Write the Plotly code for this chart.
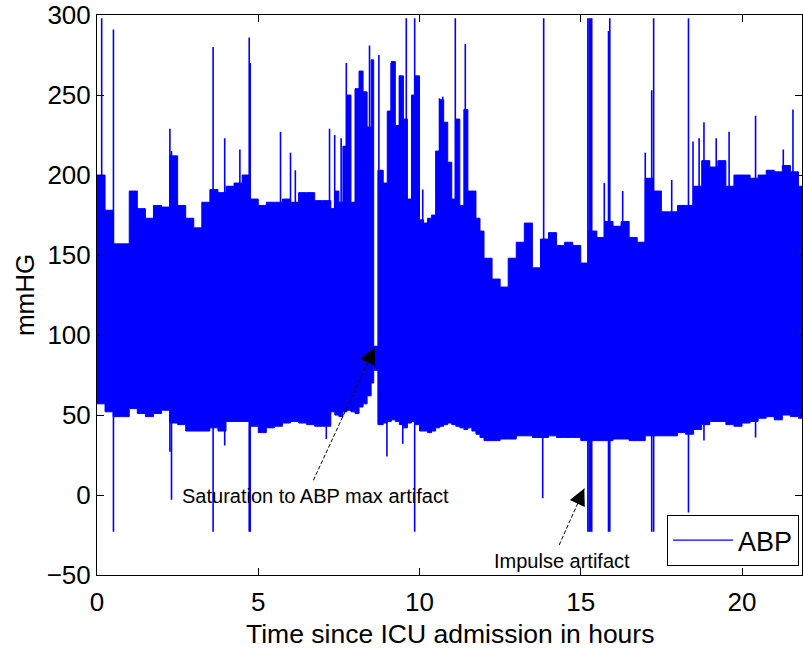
import plotly.graph_objects as go

# ---- data ----
t_env = [0, 0.25, 0.5, 0.75, 1.0, 1.25, 1.5, 1.75, 2.0, 2.25, 2.5, 2.75, 3.0, 3.25, 3.5, 3.75,
         4.0, 4.25, 4.5, 4.75, 5.0, 5.25, 5.5, 5.75, 6.0, 6.25, 6.5, 6.75, 7.0, 7.25,
         7.375, 7.5, 7.625, 7.75, 7.875, 8.0, 8.125, 8.25, 8.375, 8.5, 8.58, 8.71,
         8.875, 9.0, 9.125, 9.25, 9.375, 9.5, 9.625, 9.75, 9.875, 10.0, 10.125, 10.25, 10.375,
         10.5, 10.625, 10.75, 10.875, 11.0, 11.125, 11.25, 11.375, 11.5, 11.625, 11.75, 11.875,
         12.0, 12.25, 12.5, 12.75, 13.0, 13.25, 13.5, 13.75, 14.0, 14.25, 14.5, 14.75,
         15.0, 15.25, 15.5, 15.75, 16.0, 16.25, 16.5, 16.75, 17.0, 17.25, 17.5, 17.75,
         18.0, 18.25, 18.5, 18.75, 19.0, 19.25, 19.5, 19.75, 20.0, 20.25, 20.5, 20.75,
         21.0, 21.25, 21.5, 21.75, 21.9]

abp_upper = [200, 178, 157, 157, 190, 179, 173, 181, 180, 212, 181, 173, 167, 183, 191, 189,
             193, 195, 200, 185, 181, 183, 183, 185, 183, 189, 189, 184, 184, 179,
             190, 183, 218, 250, 183, 254, 265, 252, 230, 272, 93, 203,
             195, 240, 271, 231, 262, 235, 185, 250, 262, 172, 170, 173, 175,
             215, 247, 233, 208, 185, 235, 181, 241, 190, 190, 173, 165,
             148, 135, 130, 148, 158, 170, 142, 160, 164, 156, 158, 156,
             145, 165, 161, 171, 168, 171, 161, 158, 198, 190, 177, 177,
             181, 181, 193, 209, 205, 209, 193, 200, 200, 198, 200, 203,
             202, 206, 202, 193, 193]

abp_lower = [57, 52, 49, 49, 54, 51, 49, 51, 53, 45, 44, 40, 40, 40, 42, 40,
             46, 46, 46, 43, 39, 42, 43, 45, 46, 45, 44, 43, 43, 52,
             50, 49, 52, 53, 52, 51, 55, 57, 62, 70, 78, 44,
             45, 46, 47, 46, 44, 42, 45, 46, 44, 40, 40, 39, 40,
             42, 43, 44, 45, 44, 43, 42, 41, 42, 40, 38, 36,
             34, 34, 35, 35, 37, 37, 36, 36, 37, 36, 36, 36,
             34, 34, 34, 34, 35, 35, 34, 34, 37, 37, 37, 37,
             39, 38, 41, 44, 46, 46, 44, 43, 45, 46, 48, 49,
             47, 50, 49, 48, 48]

spike_t = [0.145, 0.51, 2.26, 2.31, 3.60, 3.96, 4.43, 4.72, 4.75, 5.69, 6.00, 6.15, 7.11, 7.21,
           7.37, 7.57, 7.73, 8.45, 8.74, 8.99, 9.12, 9.38, 9.48, 9.59, 9.85, 10.10, 10.62, 10.72,
           11.11, 11.42, 13.82, 13.85, 15.22, 15.26, 15.30, 15.34, 15.73, 15.86, 15.90, 16.30,
           17.00, 17.20, 17.26, 17.82, 18.34, 18.48, 18.67, 18.82, 19.20, 19.60, 20.42, 21.28, 21.58]
spike_lo = [100, -23, 27, -3, -23, 31, 100, -23, -23, 100, 100, 100, 35, 100,
            100, 100, 100, 100, 100, 24, 100, 100, 32, 100, -23, 100, 100, 100,
            100, 100, -2, 100, -23, -23, -23, -23, 100, -23, -23, 100,
            100, -23, -23, 100, -11, 100, 100, 34, 100, 100, 36, 100, 100]
spike_hi = [298, 291, 229, 215, 280, 223, 216, 286, 270, 227, 214, 203, 100, 229,
            225, 223, 270, 281, 275, 100, 270, 262, 100, 298, 298, 191, 248, 249,
            298, 282, 100, 298, 298, 298, 298, 298, 195, 290, 298, 190,
            214, 253, 298, 197, 298, 221, 223, 233, 223, 227, 237, 216, 241]

x_ticks = [0, 5, 10, 15, 20]
y_ticks = [-50, 0, 50, 100, 150, 200, 250, 300]

BLUE = "#0000FF"
FONT = "Liberation Sans, Arial, Helvetica, sans-serif"

fig = go.Figure()

# band of the pulsatile waveform (min/max envelope)
fig.add_trace(go.Scatter(x=t_env, y=abp_lower, mode="lines", line=dict(color=BLUE, width=1, shape="hv"),
                         showlegend=False, hoverinfo="skip"))
fig.add_trace(go.Scatter(x=t_env, y=abp_upper, mode="lines", line=dict(color=BLUE, width=1, shape="hv"),
                         fill="tonexty", fillcolor=BLUE, showlegend=False, hoverinfo="skip"))

# artifact spikes
sx, sy = [], []
for t, lo, hi in zip(spike_t, spike_lo, spike_hi):
    sx += [t, t, None]
    sy += [lo, hi, None]
fig.add_trace(go.Scatter(x=sx, y=sy, mode="lines", line=dict(color=BLUE, width=1.6),
                         showlegend=False, hoverinfo="skip"))

# legend entry
fig.add_trace(go.Scatter(x=[None], y=[None], mode="lines", line=dict(color=BLUE, width=1.2), name="ABP"))

axis_common = dict(showgrid=False, zeroline=False, showline=True, linecolor="black", linewidth=1,
                   mirror="ticks", ticks="inside", ticklen=7, tickcolor="black", tickwidth=1,
                   ticklabeloverflow="allow",
                   tickfont=dict(family=FONT, size=26, color="black"))

fig.update_xaxes(range=[0, 21.86], tickvals=x_ticks, ticklabelstandoff=4, **axis_common)
fig.update_yaxes(range=[-50, 300.05], tickvals=y_ticks, ticklabelstandoff=0, **axis_common)

# arrows (dashed shaft + head)
arrows = [((6.71, 9.2), (8.61, 92.2), (-7, 15)),
          ((14.33, -31.3), (15.11, 4.0), (-7, 15))]
for (x0, y0), (x1, y1), (ax, ay) in arrows:
    fig.add_shape(type="line", x0=x0, y0=y0, x1=x1, y1=y1, xref="x", yref="y",
                  line=dict(color="black", width=1, dash="4px,2px"))
    fig.add_annotation(x=x1, y=y1, ax=ax, ay=ay, text="", showarrow=True, arrowhead=2,
                       arrowsize=2.2, arrowwidth=1.5, arrowcolor="black", standoff=0)

fig.add_annotation(x=6.77, y=-0.7, text="Saturation to ABP max artifact", showarrow=False,
                   font=dict(family=FONT, size=20, color="black"))
fig.add_annotation(x=14.43, y=-41.2, text="Impulse artifact", showarrow=False,
                   font=dict(family=FONT, size=20, color="black"))

# axis titles
fig.add_annotation(xref="paper", yref="paper", x=0.5, y=-0.105, text="Time since ICU admission in hours",
                   showarrow=False, yanchor="middle", font=dict(family=FONT, size=26.5, color="black"))
fig.add_annotation(xref="paper", yref="paper", x=-0.102, y=0.5, text="mmHG", textangle=-90,
                   showarrow=False, xanchor="center", font=dict(family=FONT, size=26, color="black"))

fig.update_layout(
    width=803, height=649,
    margin=dict(l=97, r=0, t=13, b=74),
    paper_bgcolor="white", plot_bgcolor="white",
    showlegend=True,
    legend=dict(x=0.9958, y=0.016, xanchor="right", yanchor="bottom",
                bordercolor="black", borderwidth=1, bgcolor="white", itemwidth=60,
                font=dict(family=FONT, size=27, color="black")),
)

fig.write_html("out.html")
